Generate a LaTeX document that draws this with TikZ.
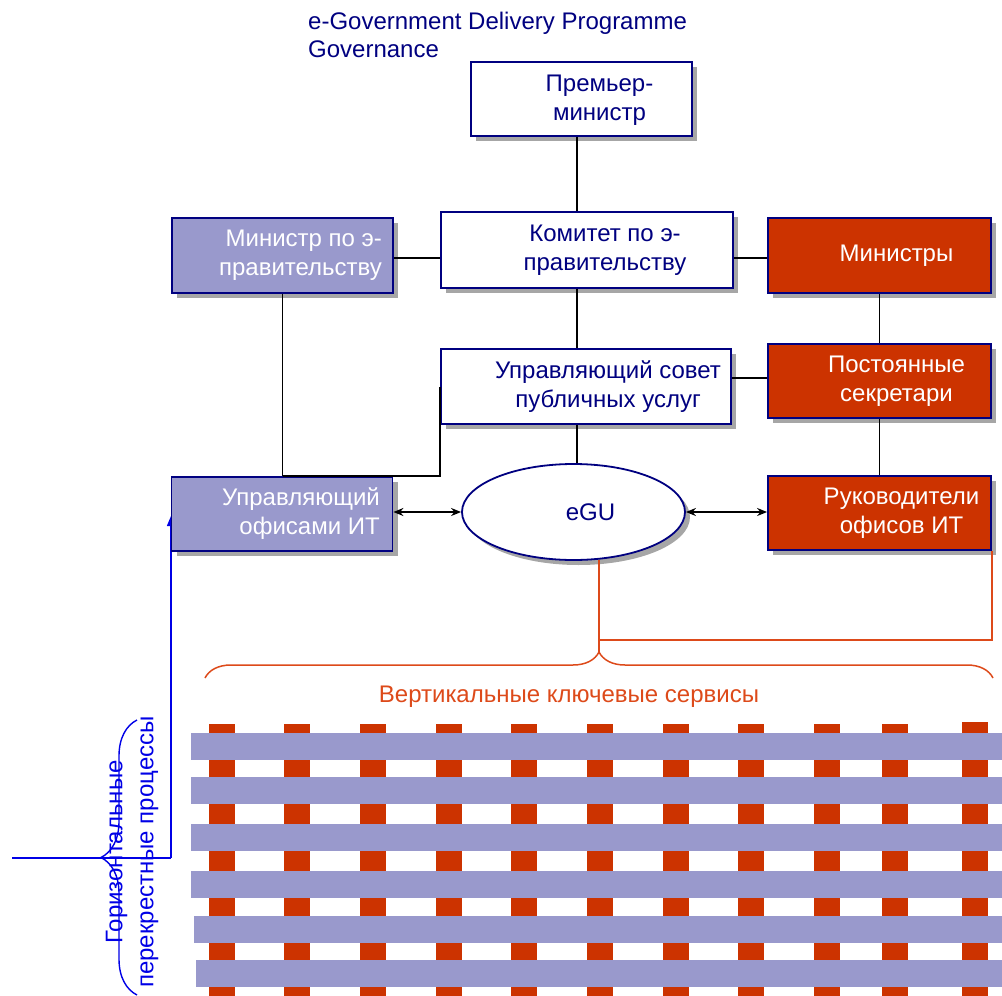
\documentclass[tikz,border=0pt]{standalone}
\usepackage{fontspec}
\setmainfont{Liberation Sans}
\usetikzlibrary{arrows.meta,shadows,shapes.geometric,decorations.pathreplacing}
\definecolor{navyline}{HTML}{000080}
\definecolor{lilac}{HTML}{9999CC}
\definecolor{rust}{HTML}{CC3300}
\definecolor{bracered}{HTML}{DD4A1A}
\definecolor{procblue}{HTML}{0000E6}
\tikzset{
  orgbox/.style={draw=navyline,line width=1.8pt,inner sep=0pt,
    drop shadow={opacity=.7,shadow xshift=5pt,shadow yshift=-5pt}},
  whitebox/.style={orgbox,fill=white},
  lilacbox/.style={orgbox,fill=lilac},
  rustbox/.style={orgbox,fill=rust},
  boxtext/.style={font=\fontsize{24}{29}\selectfont,align=center,inner sep=0pt},
  navytext/.style={boxtext,text=navyline},
  whitetext/.style={boxtext,text=white},
  link/.style={line width=1.5pt},
  twoway/.style={link,{Stealth[length=10pt,width=8pt]}-{Stealth[length=10pt,width=8pt]}}
}
\begin{document}
\begin{tikzpicture}[x=1pt,y=-1pt]
\useasboundingbox (0,0) rectangle (1002,996);
\node[anchor=north west,inner sep=0pt,align=left,text=navyline,
      font=\fontsize{24}{27.5}\selectfont] (title) at (308,12)
      {e-Government Delivery Programme\\Governance};

\draw[procblue,line width=1.4pt,-{Triangle[length=10pt,width=8pt]}] (171,858) -- (171,516);
\draw[procblue,line width=1.4pt] (12,858) -- (171,858);
\draw[procblue,line width=1.4pt,decorate,decoration={brace,amplitude=36pt}]
      (137,995) -- (137,720);
\node[rotate=90,boxtext,text=procblue,font=\fontsize{24}{31}\selectfont] (proc) at (132,852)
      {Горизонтальные\\перекрестные процессы};

\node[whitebox,minimum width=221pt,minimum height=74pt,
      label={[navytext,xshift=18pt,yshift=-1pt]center:Премьер-\\министр}] (pm) at (581.5,99) {};
\node[whitebox,minimum width=292pt,minimum height=76pt,
      label={[navytext,xshift=18pt]center:Комитет по э-\\правительству}] (kom) at (587,250) {};
\node[whitebox,minimum width=290pt,minimum height=75pt,
      label={[navytext,xshift=22pt]center:Управляющий совет\\публичных услуг}] (soviet) at (586,386.5) {};
\node[lilacbox,minimum width=221pt,minimum height=75pt,
      label={[whitetext,align=right,xshift=18pt]center:Министр по э-\\правительству}] (mine) at (282.5,255.5) {};
\node[rustbox,minimum width=223pt,minimum height=75pt,
      label={[whitetext,xshift=17pt]center:Министры}] (mins) at (879.5,255.5) {};
\node[rustbox,minimum width=223pt,minimum height=74pt,
      label={[whitetext,xshift=17pt]center:Постоянные\\секретари}] (sec) at (879.5,381) {};
\node[lilacbox,minimum width=221pt,minimum height=74pt,
      label={[whitetext,align=right,xshift=19pt]center:Управляющий\\офисами ИТ}] (uit) at (282,514) {};
\node[rustbox,minimum width=223pt,minimum height=74pt,
      label={[whitetext,xshift=22pt]center:Руководители\\офисов ИТ}] (hit) at (879.5,513) {};
\node[whitebox,ellipse,minimum width=223pt,minimum height=96pt,
      label={[navytext,xshift=17pt]center:eGU}] (egu) at (573.5,512) {};

\coordinate (spine) at (577,0);
\coordinate (row1) at (0,258);
\coordinate (row2) at (0,378);
\draw[link] (pm.south -| spine) -- (kom.north -| spine);
\draw[link] (kom.south -| spine) -- (soviet.north -| spine);
\draw[link] (soviet.south -| spine) -- (egu.north -| spine);
\draw[link] (mine.east |- row1) -- (kom.west |- row1);
\draw[link] (kom.east |- row1) -- (mins.west |- row1);
\draw[link] (soviet.east |- row2) -- (sec.west |- row2);
\draw[link] (mins.south) -- (sec.north);
\draw[link] (sec.south) -- (hit.north);
\draw[link] (mine.south) -- (mine.south |- uit.north);
\draw[link] (soviet.west) -- (soviet.west |- uit.north) -- (mine.south |- uit.north);
\draw[twoway] (uit.east |- egu.west) -- (egu.west);
\draw[twoway] (egu.east) -- (hit.west |- egu.east);

\coordinate (drop) at (598,652);
\coordinate (split) at (0,640);
\draw[bracered,link] (egu.-62) -- (egu.-62 |- drop);
\draw[bracered,link] (egu.-62 |- split) -| (hit.south east);
\draw[bracered,link,decorate,decoration={brace,amplitude=26pt}] (205,678) -- (993,678);
\node[anchor=base,font=\fontsize{24}{29}\selectfont,text=bracered] (vks) at (569,702)
      {Вертикальные ключевые сервисы};

\foreach \x in {209,284,360,436,511,587,663,738,814,882}
  \fill[rust] (\x,724) rectangle (\x+26,996);
\fill[rust] (962,722) rectangle (988,996);
\foreach \y/\x in {733/191,777/191,824/191,871/191,916/194,960/196}
  \fill[lilac] (\x,\y) rectangle (1002,\y+27);
\end{tikzpicture}
\end{document}
